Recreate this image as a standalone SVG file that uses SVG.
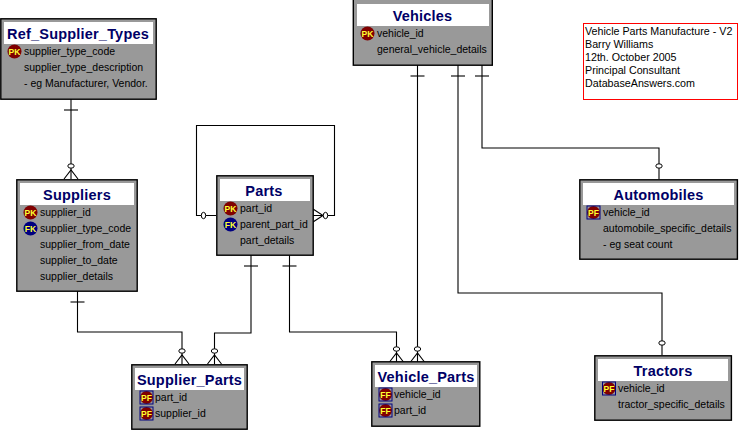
<svg xmlns="http://www.w3.org/2000/svg" width="739" height="431" viewBox="0 0 739 431">
<style>
.box{fill:#999;stroke:#000;stroke-width:1.4}
.head{fill:#fff}
.title{font:bold 14.5px "Liberation Sans",Arial,sans-serif;fill:#000066;text-anchor:middle;letter-spacing:.2px}
.row{font:10.5px "Liberation Sans",Arial,sans-serif;fill:#000}
.note{font:10.7px "Liberation Sans",Arial,sans-serif;fill:#000}
.tag{font:bold 8.5px "Liberation Sans",Arial,sans-serif;fill:#ffff33;text-anchor:middle}
.pk{fill:#800000}
.fk{fill:#000080}
.frame{fill:none;stroke:#000080;stroke-width:1}
.line{fill:none;stroke:#000;stroke-width:1.1}
.ring{fill:#fff;stroke:#000;stroke-width:1}
</style>
<defs>
<g id="many"><path class="line" d="M-7 0L0-9L7 0"/><ellipse class="ring" cx="0" cy="-13" rx="3.2" ry="2.200"/></g>
<g id="ring"><ellipse class="ring" cx="0" cy="-13" rx="3.2" ry="2.200"/></g>
<path id="tick" class="line" d="M-7 0H7"/>
<g id="pfbox"><rect class="frame" x="-6.5" y="-6.5" width="13" height="13"/></g>
</defs>
<rect width="739" height="431" fill="#fff"/>
<g id="connectors">
<path class="line" d="M71 99V179"/><use href="#tick" x="71" y="110"/><use href="#many" x="71" y="179"/>
<path class="line" d="M77.5 291V332H182V364"/><use href="#tick" x="77.5" y="302"/><use href="#many" x="182" y="364"/>
<path class="line" d="M251 255V333H214.500V364"/><use href="#tick" x="251" y="266"/><use href="#many" x="214.500" y="364"/>
<path class="line" d="M289.500 255V332H396.500V362"/><use href="#tick" x="289.500" y="266"/><use href="#many" x="396.500" y="362"/>
<path class="line" d="M417.500 65V362"/><use href="#tick" x="417.500" y="76"/><use href="#many" x="417.500" y="362"/>
<path class="line" d="M458 65V293H662V355"/><use href="#tick" x="458" y="76"/><use href="#ring" x="662" y="356"/>
<path class="line" d="M482 65V148H659V179"/><use href="#tick" x="482" y="76"/><use href="#ring" x="659" y="179"/>
<path class="line" d="M216 215.500H196.500V125.500H334.500V215.500H313M313 209L323 215.500L313 222"/>
<ellipse class="ring" cx="203.500" cy="215.500" rx="2.200" ry="3.200"/>
<ellipse class="ring" cx="325.500" cy="215.500" rx="2.200" ry="3.200"/>
</g>
<g id="ref_supplier_types">
<rect class="box" x="0.800" y="18.800" width="155.400" height="80.400"/>
<rect class="head" x="4" y="22" width="149" height="22"/>
<text class="title" x="78" y="38.500">Ref_Supplier_Types</text>
<circle class="pk" cx="14.500" cy="51.500" r="7"/><text class="tag" x="14.500" y="54.500">PK</text>
<text class="row" x="24" y="55">supplier_type_code</text>
<text class="row" x="24" y="71">supplier_type_description</text>
<text class="row" x="24" y="87">- eg Manufacturer, Vendor.</text>
</g>
<g id="suppliers">
<rect class="box" x="16.800" y="179.800" width="120.400" height="111.400"/>
<rect class="head" x="20" y="183" width="114" height="22"/>
<text class="title" x="77" y="199.500">Suppliers</text>
<circle class="pk" cx="30.500" cy="212.500" r="7"/><text class="tag" x="30.500" y="215.500">PK</text>
<circle class="fk" cx="30.500" cy="228.500" r="7"/><text class="tag" x="30.500" y="231.500">FK</text>
<text class="row" x="40" y="216">supplier_id</text>
<text class="row" x="40" y="232">supplier_type_code</text>
<text class="row" x="40" y="248">supplier_from_date</text>
<text class="row" x="40" y="264">supplier_to_date</text>
<text class="row" x="40" y="280">supplier_details</text>
</g>
<g id="parts">
<rect class="box" x="216.800" y="175.800" width="96.400" height="79.400"/>
<rect class="head" x="220" y="179" width="90" height="22"/>
<text class="title" x="264" y="195.500">Parts</text>
<circle class="pk" cx="230.500" cy="208.500" r="7"/><text class="tag" x="230.500" y="211.500">PK</text>
<circle class="fk" cx="230.500" cy="224.500" r="7"/><text class="tag" x="230.500" y="227.500">FK</text>
<text class="row" x="240" y="212">part_id</text>
<text class="row" x="240" y="228">parent_part_id</text>
<text class="row" x="240" y="244">part_details</text>
</g>
<g id="supplier_parts">
<rect class="box" x="131.800" y="364.800" width="115.400" height="64.400"/>
<rect class="head" x="135" y="368" width="109" height="22"/>
<text class="title" x="189.500" y="384.500">Supplier_Parts</text>
<circle class="pk" cx="146.500" cy="397.500" r="6.500"/><use href="#pfbox" x="146.500" y="397.500"/><text class="tag" x="146.500" y="400.500">PF</text>
<circle class="pk" cx="146.500" cy="413.500" r="6.500"/><use href="#pfbox" x="146.500" y="413.500"/><text class="tag" x="146.500" y="416.500">PF</text>
<text class="row" x="155" y="401">part_id</text>
<text class="row" x="155" y="417">supplier_id</text>
</g>
<g id="vehicle_parts">
<rect class="box" x="371.800" y="361.800" width="108" height="64.400"/>
<rect class="head" x="375" y="365" width="102" height="22"/>
<text class="title" x="426" y="381.500">Vehicle_Parts</text>
<circle class="pk" cx="385.500" cy="394.500" r="6.500"/><use href="#pfbox" x="385.500" y="394.500"/><text class="tag" x="385.500" y="397.500">FF</text>
<circle class="pk" cx="385.500" cy="410.500" r="6.500"/><use href="#pfbox" x="385.500" y="410.500"/><text class="tag" x="385.500" y="413.500">FF</text>
<text class="row" x="394" y="398">vehicle_id</text>
<text class="row" x="394" y="414">part_id</text>
</g>
<g id="vehicles">
<rect class="box" x="353.300" y="-1" width="139" height="66.200"/>
<rect class="head" x="357" y="4" width="132" height="22"/>
<text class="title" x="422.500" y="20.500">Vehicles</text>
<circle class="pk" cx="367.500" cy="33.500" r="7"/><text class="tag" x="367.500" y="36.500">PK</text>
<text class="row" x="377" y="37">vehicle_id</text>
<text class="row" x="377" y="53">general_vehicle_details</text>
</g>
<g id="note">
<rect x="583.500" y="23.500" width="154" height="76" fill="#fff" stroke="#ff0000" stroke-width="1"/>
<text class="note" x="585" y="35">Vehicle Parts Manufacture - V2</text>
<text class="note" x="585" y="48">Barry Williams</text>
<text class="note" x="585" y="61">12th. October 2005</text>
<text class="note" x="585" y="74">Principal Consultant</text>
<text class="note" x="585" y="87">DatabaseAnswers.com</text>
</g>
<g id="automobiles">
<rect class="box" x="579.800" y="179.800" width="157.600" height="79.400"/>
<rect class="head" x="583" y="183" width="151" height="22"/>
<text class="title" x="658.500" y="199.500">Automobiles</text>
<circle class="pk" cx="593.500" cy="212.500" r="6.500"/><use href="#pfbox" x="593.500" y="212.500"/><text class="tag" x="593.500" y="215.500">PF</text>
<text class="row" x="603" y="216">vehicle_id</text>
<text class="row" x="603" y="232">automobile_specific_details</text>
<text class="row" x="603" y="248">- eg seat count</text>
</g>
<g id="tractors">
<rect class="box" x="594.800" y="355.800" width="136.600" height="64.400"/>
<rect class="head" x="598" y="359" width="130" height="22"/>
<text class="title" x="663" y="375.500">Tractors</text>
<circle class="pk" cx="609" cy="388.500" r="6.500"/><use href="#pfbox" x="609" y="388.500"/><text class="tag" x="609" y="391.500">PF</text>
<text class="row" x="618" y="392">vehicle_id</text>
<text class="row" x="618" y="408">tractor_specific_details</text>
</g>
</svg>
